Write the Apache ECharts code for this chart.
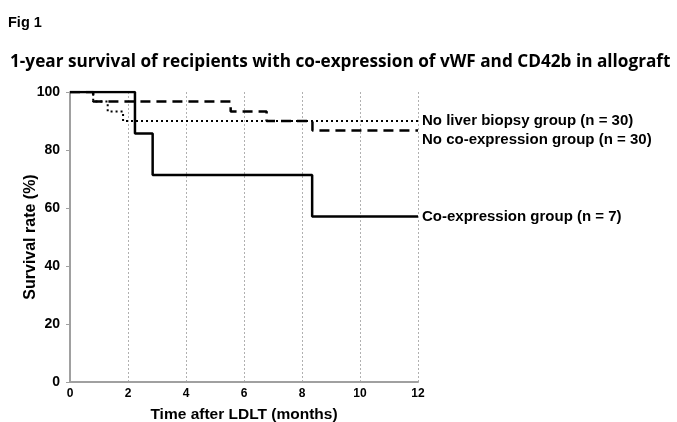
<!DOCTYPE html>
<html>
<head>
<meta charset="utf-8">
<script src="https://cdn.jsdelivr.net/npm/echarts@6/dist/echarts.min.js"></script>
<style>
html, body { margin: 0; padding: 0; background: #fff; }
#chart { width: 677px; height: 422px; }
</style>
</head>
<body>
<div id="chart"></div>
<script>
// Kaplan-Meier steps: [month, survival %]
var coExpression = [[0, 100], [2.24, 85.7], [2.85, 71.4], [8.35, 57.1], [12, 57.1]];
var noCoExpression = [[0, 100], [0.8, 96.7], [5.54, 93.3], [6.78, 90], [8.36, 86.7], [12, 86.7]];
var noBiopsy = [[0, 100], [0.8, 96.7], [1.3, 93.3], [1.83, 90], [12, 90]];
var seriesNames = ['Co-expression group (n = 7)', 'No co-expression group (n = 30)', 'No liver biopsy group (n = 30)'];
var xTicks = [0, 2, 4, 6, 8, 10, 12];

var chart = echarts.init(document.getElementById('chart'));
var font = 'Liberation Sans, Arial, sans-serif';

function mkSeries(name, data, lineType, width, labelOffset) {
    return {
        name: name,
        type: 'line',
        step: 'end',
        data: data,
        symbol: 'none',
        lineStyle: { color: '#000', width: width, type: lineType },
        endLabel: {
            show: true,
            formatter: name,
            color: '#000',
            fontFamily: font,
            fontWeight: 'bold',
            fontSize: 15,
            distance: 4,
            offset: labelOffset
        },
        z: 3
    };
}

var option = {
    backgroundColor: '#fff',
    animation: false,
    title: [{
        text: 'Fig 1',
        left: 3, top: 10,
        textStyle: { fontFamily: font, fontWeight: 'bold', fontSize: 14.5, color: '#000' }
    }, {
        text: '1-year survival of recipients with co-expression of vWF and CD42b in allograft',
        left: 5, top: 49,
        textStyle: { fontFamily: 'Open Sans, sans-serif', fontWeight: 'bold', fontSize: 17.2, color: '#000' }
    }],
    grid: { left: 70, right: 259, top: 92, bottom: 40, outerBoundsMode: 'none', containLabel: false },
    xAxis: {
        type: 'value',
        min: 0, max: 12, interval: 2,
        name: 'Time after LDLT (months)',
        nameLocation: 'middle',
        nameGap: 25,
        nameMoveOverlap: false,
        nameTextStyle: { fontFamily: font, fontWeight: 'bold', fontSize: 15.5, color: '#000' },
        axisLine: { show: true, lineStyle: { color: '#a0a0a0', width: 2 } },
        axisTick: { show: false },
        axisLabel: {
            fontFamily: font, fontWeight: 'bold', fontSize: 12, color: '#000', margin: 6,
            formatter: function (v) { return xTicks.indexOf(v) >= 0 ? v : ''; }
        },
        splitLine: { show: true, lineStyle: { color: '#b0b0b0', width: 1, type: [2, 2] } }
    },
    yAxis: {
        type: 'value',
        min: 0, max: 100, interval: 20,
        name: 'Survival rate (%)',
        nameLocation: 'middle',
        nameGap: 31,
        nameMoveOverlap: false,
        nameTextStyle: { fontFamily: font, fontWeight: 'bold', fontSize: 16, color: '#000' },
        axisLine: { show: true, lineStyle: { color: '#a0a0a0', width: 2 } },
        axisTick: { show: true, length: 4, lineStyle: { color: '#a0a0a0', width: 1 } },
        axisLabel: { fontFamily: font, fontWeight: 'bold', fontSize: 14, color: '#000', margin: 10 },
        splitLine: { show: false }
    },
    series: [
        mkSeries(seriesNames[0], coExpression, 'solid', 2.5, [0, 0]),
        mkSeries(seriesNames[1], noCoExpression, [10, 6], 2.5, [0, 9]),
        mkSeries(seriesNames[2], noBiopsy, [2, 3], 2, [0, 0])
    ]
};
chart.setOption(option);
</script>
</body>
</html>
